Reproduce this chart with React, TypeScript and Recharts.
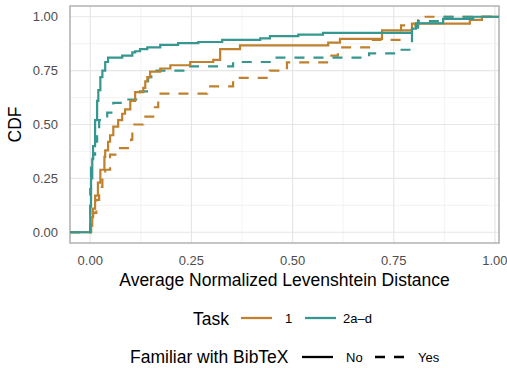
import {
  CartesianGrid,
  Legend,
  Line,
  LineChart,
  ReferenceArea,
  XAxis,
  YAxis,
} from "recharts";

// ECDF steps: [distance, cumulative share]
const task1No: [number, number][] = [
  [0.002, 0.03], [0.005, 0.07], [0.007, 0.11], [0.012, 0.17], [0.019, 0.23],
  [0.025, 0.29], [0.035, 0.35], [0.037, 0.38], [0.044, 0.42], [0.049, 0.45],
  [0.057, 0.49], [0.069, 0.52], [0.079, 0.55], [0.086, 0.57], [0.099, 0.61],
  [0.111, 0.65], [0.131, 0.67], [0.136, 0.7], [0.141, 0.72], [0.148, 0.745],
  [0.173, 0.76], [0.198, 0.775], [0.247, 0.79], [0.304, 0.8], [0.321, 0.85],
  [0.37, 0.867], [0.588, 0.88], [0.617, 0.897], [0.721, 0.937], [0.795, 0.968],
  [0.938, 0.986], [0.968, 1.0],
];

const task1Yes: [number, number][] = [
  [0.002, 0.04], [0.007, 0.09], [0.015, 0.15], [0.022, 0.21], [0.03, 0.26],
  [0.037, 0.29], [0.049, 0.36], [0.069, 0.39], [0.101, 0.43], [0.104, 0.5],
  [0.131, 0.537], [0.16, 0.58], [0.168, 0.643], [0.289, 0.677], [0.353, 0.716],
  [0.444, 0.75], [0.486, 0.788], [0.585, 0.82], [0.612, 0.858], [0.696, 0.893],
  [0.768, 0.96], [0.81, 1.0],
];

const task2No: [number, number][] = [
  [0.0, 0.12], [0.002, 0.25], [0.005, 0.34], [0.007, 0.4], [0.012, 0.52],
  [0.017, 0.61], [0.02, 0.66], [0.025, 0.72], [0.03, 0.75], [0.037, 0.79],
  [0.044, 0.81], [0.079, 0.82], [0.104, 0.835], [0.111, 0.84], [0.123, 0.85],
  [0.141, 0.858], [0.173, 0.87], [0.217, 0.878], [0.267, 0.883], [0.326, 0.893],
  [0.42, 0.9], [0.444, 0.91], [0.514, 0.917], [0.575, 0.925], [0.795, 0.945],
  [0.805, 0.97], [0.872, 0.99], [0.946, 1.0],
];

const task2Yes: [number, number][] = [
  [0.0, 0.2], [0.002, 0.3], [0.007, 0.36], [0.012, 0.42], [0.017, 0.47],
  [0.022, 0.52], [0.042, 0.555], [0.057, 0.6], [0.091, 0.616], [0.123, 0.654],
  [0.143, 0.72], [0.151, 0.75], [0.235, 0.77], [0.353, 0.79], [0.449, 0.81],
  [0.689, 0.83], [0.765, 0.847], [0.795, 0.95], [0.81, 0.98], [0.864, 1.0],
];

const xTicks = [0, 0.25, 0.5, 0.75, 1];
const yTicks = [0, 0.25, 0.5, 0.75, 1];
const minorTicks = [0.125, 0.375, 0.625, 0.875];

const X_MIN = -0.05;
const X_MAX = 1.01;
const Y_MIN = -0.05;
const Y_MAX = 1.05;

const ORANGE = "#BF812D";
const TEAL = "#35978F";
const DASH = "10 9";

// stat_ecdf pads the steps out to both panel edges
const toSteps = (pts: [number, number][]) => [
  { x: X_MIN, y: 0 },
  ...pts.map(([x, y]) => ({ x, y })),
  { x: X_MAX, y: 1 },
];

const font = "'Liberation Sans', Arial, sans-serif";

function LegendBlock() {
  return (
    <svg width={507} height={68} style={{ display: "block", fontFamily: font }}>
      <text x={193} y={25} fontSize={17.5} fill="#000">Task</text>
      <line x1={241} x2={272} y1={18} y2={18} stroke={ORANGE} strokeWidth={2.3} />
      <text x={285} y={23} fontSize={13} fill="#000">1</text>
      <line x1={305} x2={336} y1={18} y2={18} stroke={TEAL} strokeWidth={2.3} />
      <text x={343} y={23} fontSize={13} fill="#000">2a–d</text>

      <text x={130} y={63} fontSize={17.5} fill="#000">Familiar with BibTeX</text>
      <line x1={302} x2={333} y1={57} y2={57} stroke="#000" strokeWidth={2.3} />
      <text x={346} y={62} fontSize={13} fill="#000">No</text>
      <line x1={375} x2={404} y1={57} y2={57} stroke="#000" strokeWidth={2.3} strokeDasharray={DASH} />
      <text x={418} y={62} fontSize={13} fill="#000">Yes</text>
    </svg>
  );
}

export default function App() {
  return (
    <div style={{ position: "absolute", left: 0, top: 0, fontFamily: font }}>
      <LineChart
        width={507}
        height={368}
        margin={{ top: 6, right: 8, bottom: 0, left: 0 }}
      >
        <CartesianGrid
          horizontalValues={minorTicks}
          verticalValues={minorTicks}
          stroke="#ebebeb"
          strokeWidth={0.6}
        />
        <CartesianGrid
          horizontalValues={yTicks}
          verticalValues={xTicks}
          stroke="#e6e6e6"
          strokeWidth={1.2}
        />
        <XAxis
          type="number"
          dataKey="x"
          domain={[X_MIN, X_MAX]}
          allowDataOverflow
          ticks={xTicks}
          tickFormatter={(v: number) => v.toFixed(2)}
          height={125}
          axisLine={false}
          tickLine={false}
          tickSize={4}
          tickMargin={9}
          tick={{ fill: "#4d4d4d", fontSize: 13 }}
          label={(props: any) => {
            const vb = props.viewBox;
            return (
              <text
                x={vb.x + vb.width / 2}
                y={286}
                textAnchor="middle"
                fontSize={17.5}
                fill="#000"
              >
                Average Normalized Levenshtein Distance
              </text>
            );
          }}
        />
        <YAxis
          type="number"
          domain={[Y_MIN, Y_MAX]}
          allowDataOverflow
          ticks={yTicks}
          tickFormatter={(v: number) => v.toFixed(2)}
          width={70}
          axisLine={false}
          tickLine={false}
          tickSize={4}
          tickMargin={8}
          tick={{ fill: "#4d4d4d", fontSize: 13 }}
          label={(props: any) => {
            const vb = props.viewBox;
            const cy = vb.y + vb.height / 2;
            return (
              <text
                x={21}
                y={cy}
                transform={`rotate(-90, 21, ${cy})`}
                textAnchor="middle"
                fontSize={17.5}
                fill="#000"
              >
                CDF
              </text>
            );
          }}
        />
        <Line
          data={toSteps(task1Yes)}
          dataKey="y"
          type="stepAfter"
          stroke={ORANGE}
          strokeWidth={2.2}
          strokeDasharray={DASH}
          dot={false}
          activeDot={false}
          isAnimationActive={false}
        />
        <Line
          data={toSteps(task2Yes)}
          dataKey="y"
          type="stepAfter"
          stroke={TEAL}
          strokeWidth={2.2}
          strokeDasharray={DASH}
          dot={false}
          activeDot={false}
          isAnimationActive={false}
        />
        <Line
          data={toSteps(task1No)}
          dataKey="y"
          type="stepAfter"
          stroke={ORANGE}
          strokeWidth={2.2}
          dot={false}
          activeDot={false}
          isAnimationActive={false}
        />
        <Line
          data={toSteps(task2No)}
          dataKey="y"
          type="stepAfter"
          stroke={TEAL}
          strokeWidth={2.2}
          dot={false}
          activeDot={false}
          isAnimationActive={false}
        />
        <ReferenceArea
          x1={X_MIN}
          x2={X_MAX}
          y1={Y_MIN}
          y2={Y_MAX}
          fill="none"
          stroke="#b3b3b3"
          strokeWidth={1.6}
          ifOverflow="visible"
        />
        <Legend
          layout="horizontal"
          verticalAlign="middle"
          align="center"
          wrapperStyle={{ top: 300, left: 0, width: 507 }}
          content={() => <LegendBlock />}
        />
      </LineChart>
    </div>
  );
}
